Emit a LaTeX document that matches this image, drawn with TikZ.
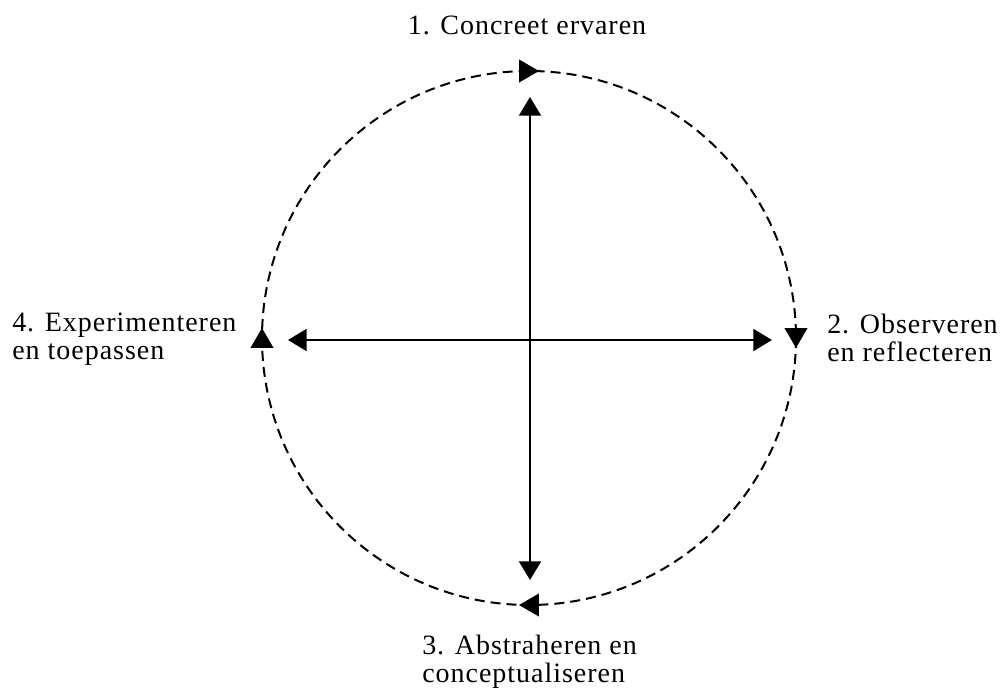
\documentclass[tikz,border=0pt]{standalone}
\usepackage{fontspec}
\setmainfont{Liberation Serif}[LetterSpace=3.5]
\usetikzlibrary{arrows.meta,decorations.markings}

\tikzset{
    label text/.style={font=\fontsize{21}{20.6}\selectfont, inner sep=0pt},
    crossarrow/.style={line width=1.5pt,
        {Triangle[length=14pt,width=16.5pt]}-{Triangle[length=14pt,width=16.5pt]}},
    cyclering/.style={line width=1.5pt, dash pattern=on 7.5pt off 4.5pt,
        postaction={decorate},
        decoration={markings,
            mark=between positions 0 and 0.8 step 0.25 with
                {\arrow[xshift=7.5pt]{Triangle[length=15pt,width=17pt]}}}}
}

\begin{document}
\begin{tikzpicture}[x=0.75pt,y=-0.75pt]
            \useasboundingbox (0,0) rectangle (1000,689);

            \coordinate (c) at (529,338);
            \coordinate (up) at (530,97);
            \coordinate (down) at (530,580);
            \coordinate (west) at (288,340);
            \coordinate (east) at (772,340);

            \draw[cyclering] (c) circle (267);

            \draw[crossarrow] (up) -- (down);
            \draw[crossarrow] (west) -- (east);

            \node[label text, anchor=base] (concreet) at (527,34) {1. Concreet ervaren};
            \node[label text, anchor=north west, align=left] (observeren) at (827,314) {2. Observeren\\en reflecteren};
            \node[label text, anchor=north west, align=left] (abstraheren) at (422,635) {3. Abstraheren en\\conceptualiseren};
            \node[label text, anchor=north west, align=left] (experimenteren) at (12,313) {4. Experimenteren\\en toepassen};
        \end{tikzpicture}
\end{document}
